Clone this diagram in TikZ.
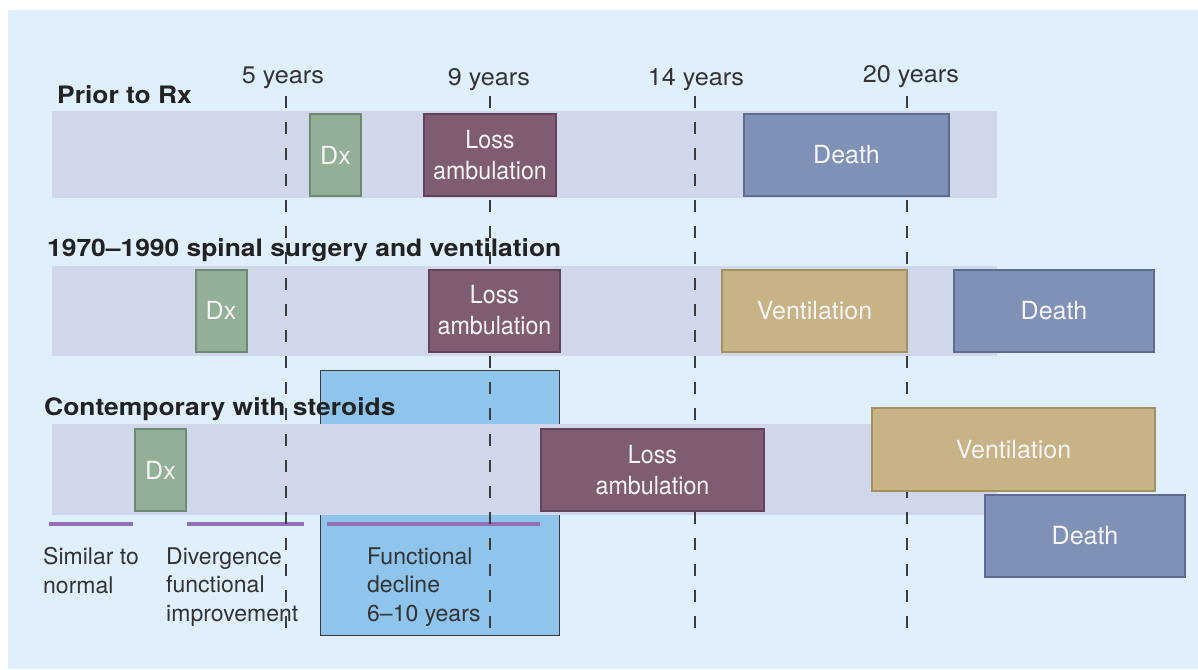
\documentclass[tikz,border=0pt]{standalone}
\usepackage{fontspec}
\setmainfont{TeX Gyre Heros}[Ligatures=TeX]
\newfontfamily\titlefont{TeX Gyre Heros}[FakeStretch=1.1,Ligatures=TeX]
\newfontfamily\yearfont{TeX Gyre Heros}[FakeStretch=1.05]
\newfontfamily\condfont{TeX Gyre Heros}[FakeStretch=0.93]
\definecolor{bgc}{HTML}{DFEFFB}
\definecolor{bandc}{HTML}{D1D7EB}
\definecolor{dxc}{HTML}{93AF98}
\definecolor{dxb}{HTML}{6F8A73}
\definecolor{lossc}{HTML}{7F5C72}
\definecolor{lossb}{HTML}{62435A}
\definecolor{deathc}{HTML}{8091B8}
\definecolor{deathb}{HTML}{5E6C92}
\definecolor{ventc}{HTML}{C8B387}
\definecolor{ventb}{HTML}{A3915F}
\definecolor{funcc}{HTML}{8FC5EC}
\definecolor{funcb}{HTML}{3A3A3A}
\definecolor{purp}{HTML}{9370B4}
\definecolor{dashc}{HTML}{3C3C3C}
\definecolor{txtc}{HTML}{333333}
\definecolor{titlec}{HTML}{222222}
\begin{document}
\begin{tikzpicture}[x=1pt,y=-1pt,
  event/.style={draw, line width=2pt, inner sep=0pt, text=white!96!black,
    font=\fontsize{25}{31}\selectfont},
  dxbox/.style={event, fill=dxc, draw=dxb, minimum width=51pt, minimum height=82pt},
  lossbox/.style={event, fill=lossc, draw=lossb, minimum height=82pt, align=center,
    font=\condfont\fontsize{25}{31}\selectfont},
  deathbox/.style={event, fill=deathc, draw=deathb, minimum height=82pt},
  ventbox/.style={event, fill=ventc, draw=ventb, minimum height=82pt},
  title/.style={anchor=base west, inner sep=0pt, text=titlec,
    font=\titlefont\bfseries\fontsize{24}{28}\selectfont},
  yearlab/.style={anchor=base, inner sep=0pt, text=txtc,
    font=\yearfont\fontsize{24}{28}\selectfont},
  note/.style={anchor=north west, inner sep=0pt, align=left, text=txtc,
    font=\fontsize{23}{28.5}\selectfont},
  tick/.style={draw=dashc, line width=2pt, dash pattern=on 12pt off 14pt},
  phase/.style={draw=purp, line width=3.5pt}]
\useasboundingbox (0,0) rectangle (1198,669);
\fill[white] (0,0) rectangle (1198,669);
\fill[bgc] (8,10) rectangle (1198,669);
% functional decline period
\node[draw=funcb, fill=funcc, line width=1.5pt, inner sep=0pt,
  minimum width=239pt, minimum height=265pt] (func) at (440,503) {};
% bands
\fill[bandc] (52,111) rectangle (997,198);
\fill[bandc] (52,266) rectangle (997,356);
\fill[bandc] (52,424) rectangle (997,515);
% titles
\node[title] (t1) at (57,103) {Prior to Rx};
\node[title] (t2) at (47,256) {1970–1990 spinal surgery and ventilation};
\node[title] (t3) at (44,415) {Contemporary with steroids};
% year labels
\node[yearlab] (y5) at (283,83) {5 years};
\node[yearlab] (y9) at (489,85) {9 years};
\node[yearlab] (y14) at (696,85) {14 years};
\node[yearlab] (y20) at (911,82) {20 years};
% phase notes
\node[note] (n1) at (43,547.5) {Similar to\\normal};
\node[note] (n2) at (166,547.5) {Divergence\\functional\\improvement};
\node[note] (n3) at (367,547.5) {Functional\\decline\\6–10 years};
% phase lines
\coordinate (p1a) at (49,524); \coordinate (p1b) at (133,524);
\coordinate (p2a) at (187,524); \coordinate (p2b) at (304,524);
\coordinate (p3a) at (327,524); \coordinate (p3b) at (540,524);
\draw[phase] (p1a) -- (p1b);
\draw[phase] (p2a) -- (p2b);
\draw[phase] (p3a) -- (p3b);
% dashed year lines
\coordinate (d5a) at (286,96); \coordinate (d5b) at (286,632);
\coordinate (d9a) at (490,96); \coordinate (d9b) at (490,632);
\coordinate (d14a) at (695,96); \coordinate (d14b) at (695,632);
\coordinate (d20a) at (907,96); \coordinate (d20b) at (907,632);
\draw[tick] (d5a) -- (d5b);
\draw[tick] (d9a) -- (d9b);
\draw[tick] (d14a) -- (d14b);
\draw[tick] (d20a) -- (d20b);
% row 1
\node[dxbox] (dx1) at (335.5,155) {Dx};
\node[lossbox, minimum width=132pt] (loss1) at (490,155) {Loss\\ambulation};
\node[deathbox, minimum width=205pt] (death1) at (846.5,155) {Death};
% row 2
\node[dxbox] (dx2) at (221,310.5) {Dx};
\node[lossbox, minimum width=131pt] (loss2) at (494.5,310.5) {Loss\\ambulation};
\node[ventbox, minimum width=185pt] (vent2) at (814.5,310.5) {Ventilation};
\node[deathbox, minimum width=200pt] (death2) at (1054,310.5) {Death};
% row 3
\node[dxbox] (dx3) at (160.5,470) {Dx};
\node[lossbox, minimum width=223pt] (loss3) at (652.5,470) {Loss\\ambulation};
\node[ventbox, minimum width=283pt, minimum height=83pt] (vent3) at (1013.5,449.5) {Ventilation};
\node[deathbox, minimum width=200pt] (death3) at (1085,535.5) {Death};
\end{tikzpicture}
\end{document}
